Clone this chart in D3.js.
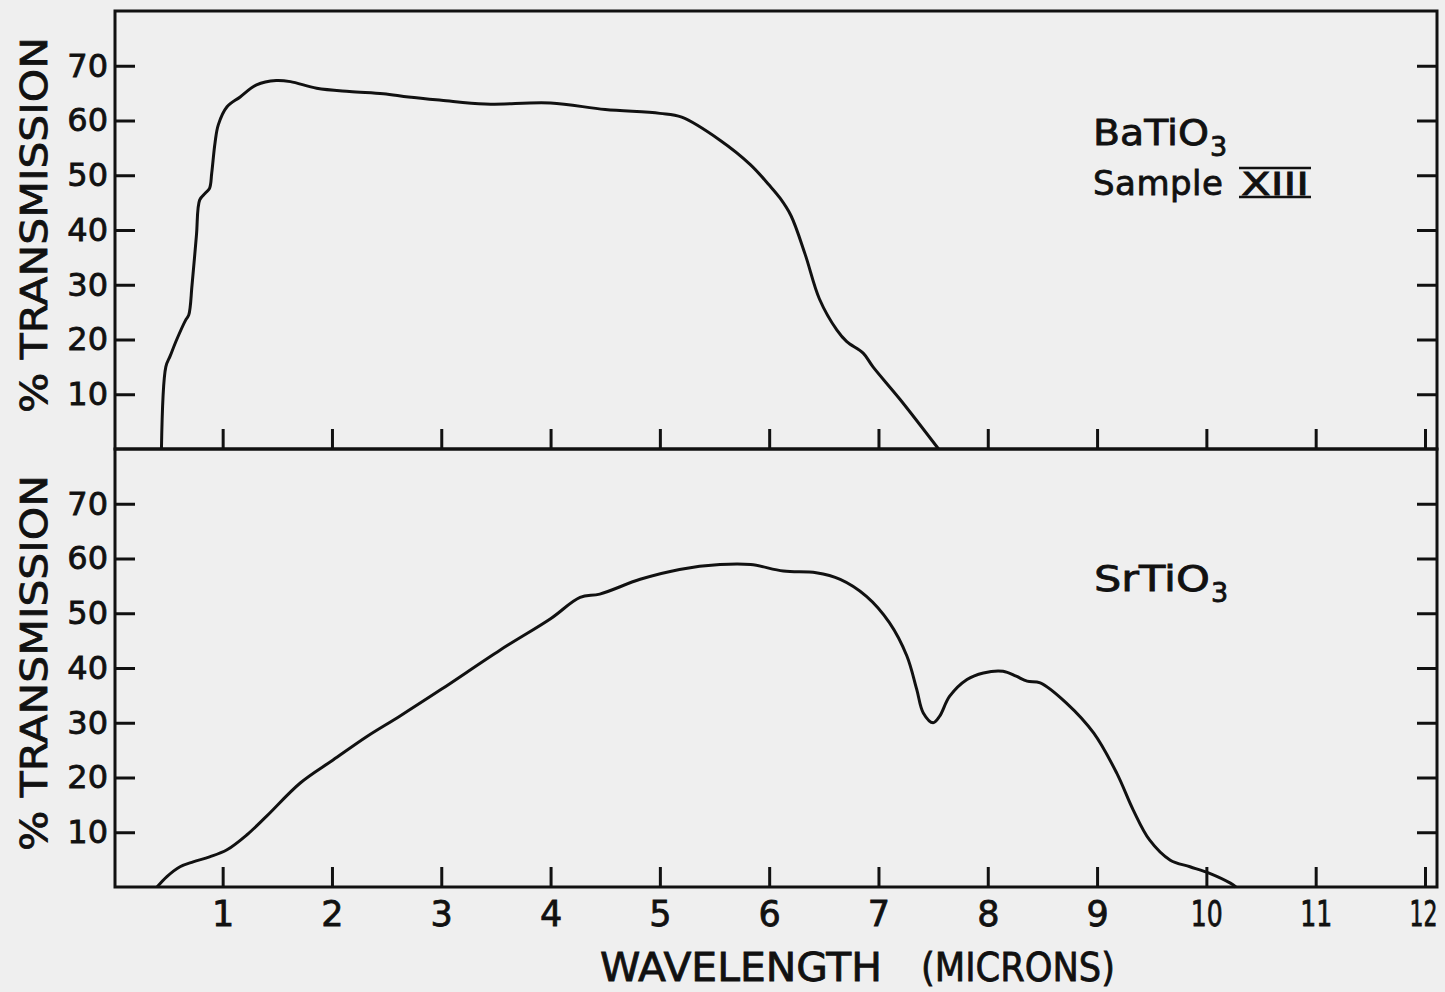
<!DOCTYPE html>
<html>
<head>
<meta charset="utf-8">
<script src="https://cdn.jsdelivr.net/npm/d3@7"></script>
<style>
  body { margin: 0; background: #efefef; }
  svg text { font-family: "DejaVu Sans", sans-serif; fill: #111; stroke: #111; stroke-width: 0.8; }
</style>
</head>
<body>
<script>
// tick values
var wavelengthTicks = [1, 2, 3, 4, 5, 6, 7, 8, 9, 10, 11, 12];
var transTicks = [10, 20, 30, 40, 50, 60, 70];

// BaTiO3, sample XIII
var baWavelength = [0.44, 0.48, 0.52, 0.58, 0.66, 0.69, 0.72, 0.76, 0.79, 0.84, 0.88, 0.90, 0.93, 0.96,
  1.04, 1.16, 1.31, 1.49, 1.62, 1.86, 2.16, 2.47, 2.7, 3.0, 3.4, 4.0, 4.5, 5.0, 5.2, 5.55, 5.83, 6.0,
  6.1, 6.2, 6.33, 6.46, 6.62, 6.71, 6.86, 6.95, 7.2, 7.55];
var baTransmission = [0, 15, 17, 20, 23.5, 24.5, 30, 39, 45.5, 46.7, 47.6, 50.4, 55.9, 59.2,
  62.5, 64.3, 66.5, 67.3, 67.1, 65.9, 65.3, 64.9, 64.3, 63.7, 63.0, 63.2, 62.0, 61.3, 60.6, 56.4, 51.9, 48.2,
  45.8, 42.6, 35.5, 27.4, 21.7, 19.6, 17.5, 15.0, 9, 0];

// SrTiO3
var srWavelength = [0.40, 0.49, 0.61, 0.73, 0.88, 1.04, 1.22, 1.40, 1.71, 2.01, 2.32, 2.62, 3.0, 3.54,
  4.0, 4.27, 4.45, 4.82, 5.18, 5.55, 5.83, 6.13, 6.43, 6.65, 6.89, 7.1, 7.26, 7.35, 7.41, 7.50, 7.56,
  7.65, 7.81, 7.96, 8.14, 8.26, 8.36, 8.48, 8.72, 8.97, 9.18, 9.33, 9.48, 9.67, 9.85, 10.03, 10.22, 10.27];
var srTransmission = [0, 1.9, 3.7, 4.6, 5.5, 6.8, 9.5, 12.9, 19.0, 23.2, 27.5, 31.2, 36.1, 43.3,
  49, 52.9, 53.5, 56.2, 58, 58.9, 58.9, 57.7, 57.4, 56.2, 53.1, 48.3, 42.2, 36.1, 31.8, 30.0, 31.2,
  34.8, 37.9, 39.1, 39.4, 38.5, 37.6, 37.3, 33.6, 28.1, 20.8, 14.1, 8.6, 4.9, 3.7, 2.5, 0.7, 0];

var width = 1445, height = 992;
var left = 115, right = 1437;

var svg = d3.select("body").append("svg")
  .attr("width", width)
  .attr("height", height);

svg.append("rect")
  .attr("width", width)
  .attr("height", height)
  .attr("fill", "#efefef");

var x = d3.scaleLinear()
  .domain([0.015, 12.11])
  .range([left, right]);

function drawPanel(top, bottom, wl, tr, showXLabels) {
  var y = d3.scaleLinear()
    .domain([0, 80])
    .range([bottom, top]);

  var g = svg.append("g");

  var yLeft = g.append("g")
    .attr("transform", "translate(" + left + ",0)")
    .call(d3.axisLeft(y).tickValues(transTicks).tickSize(-20).tickSizeOuter(0).tickPadding(7));

  var yRight = g.append("g")
    .attr("transform", "translate(" + right + ",0)")
    .call(d3.axisRight(y).tickValues(transTicks).tickSize(-20).tickSizeOuter(0).tickFormat(""));

  var xAxis = g.append("g")
    .attr("transform", "translate(0," + bottom + ")")
    .call(d3.axisBottom(x).tickValues(wavelengthTicks).tickSize(-20).tickSizeOuter(0).tickPadding(14)
      .tickFormat(showXLabels ? d3.format("d") : ""));

  g.selectAll(".domain").remove();
  g.selectAll(".tick line").attr("stroke", "#111").attr("stroke-width", 3);

  yLeft.selectAll("text")
    .attr("font-size", 32)
    .attr("font-family", "DejaVu Sans, sans-serif")
    .attr("fill", "#111");

  xAxis.selectAll("text")
    .attr("font-size", 35)
    .attr("font-family", "DejaVu Sans, sans-serif")
    .attr("fill", "#111")
    .filter(function (d) { return d >= 10; })
    .attr("textLength", function (d) { return d === 12 ? 28 : 32; })
    .attr("dx", function (d) { return d === 12 ? -2 : 0; })
    .attr("lengthAdjust", "spacingAndGlyphs");

  // frame
  g.append("rect")
    .attr("x", left)
    .attr("y", top)
    .attr("width", right - left)
    .attr("height", bottom - top)
    .attr("fill", "none")
    .attr("stroke", "#111")
    .attr("stroke-width", 3);

  var line = d3.line()
    .x(function (d, i) { return x(wl[i]); })
    .y(function (d, i) { return y(tr[i]); })
    .curve(d3.curveCatmullRom.alpha(0.5));

  g.append("path")
    .datum(wl)
    .attr("fill", "none")
    .attr("stroke", "#111")
    .attr("stroke-width", 3)
    .attr("stroke-linejoin", "round")
    .attr("d", line);

  // y axis title
  g.append("text")
    .attr("transform", "translate(47," + ((top + bottom) / 2 - 5) + ")rotate(-90)")
    .attr("text-anchor", "middle")
    .attr("font-size", 37)
    .attr("textLength", 376)
    .attr("lengthAdjust", "spacingAndGlyphs")
    .text("% TRANSMISSION");

  return g;
}

var topPanel = drawPanel(11, 449, baWavelength, baTransmission, false);
var bottomPanel = drawPanel(449, 887, srWavelength, srTransmission, true);

// labels
function formula(g, name, xPos, yPos) {
  var t = g.append("text")
    .attr("x", xPos)
    .attr("y", yPos);
  t.append("tspan")
    .attr("font-size", 36)
    .attr("textLength", 116)
    .attr("lengthAdjust", "spacingAndGlyphs")
    .text(name);
  t.append("tspan")
    .attr("font-size", 27)
    .attr("dx", 1)
    .attr("dy", 11)
    .text("3");
  return t;
}

formula(topPanel, "BaTiO", 1093, 145);

var sample = topPanel.append("text")
  .attr("x", 1093)
  .attr("y", 195)
  .attr("font-size", 34)
  .attr("letter-spacing", 0.5)
  .text("Sample");

var roman = topPanel.append("text")
  .attr("x", 1241)
  .attr("y", 195)
  .attr("font-size", 32)
  .attr("textLength", 68)
  .attr("lengthAdjust", "spacingAndGlyphs")
  .text("XIII");

var rb = roman.node().getBBox();
topPanel.selectAll(".bar")
  .data([168, 197])
  .enter().append("line")
  .attr("x1", rb.x - 2)
  .attr("x2", rb.x + rb.width + 2)
  .attr("y1", function (d) { return d; })
  .attr("y2", function (d) { return d; })
  .attr("stroke", "#111")
  .attr("stroke-width", 2.5);

formula(bottomPanel, "SrTiO", 1094, 591);

// x axis title, two words with a wide gap as in the original lettering
svg.append("text")
  .attr("x", 600)
  .attr("y", 981)
  .attr("font-size", 39)
  .attr("textLength", 282)
  .attr("lengthAdjust", "spacingAndGlyphs")
  .text("WAVELENGTH");

svg.append("text")
  .attr("x", 921)
  .attr("y", 981)
  .attr("font-size", 39)
  .attr("textLength", 194)
  .attr("lengthAdjust", "spacingAndGlyphs")
  .text("(MICRONS)");
</script>
</body>
</html>
